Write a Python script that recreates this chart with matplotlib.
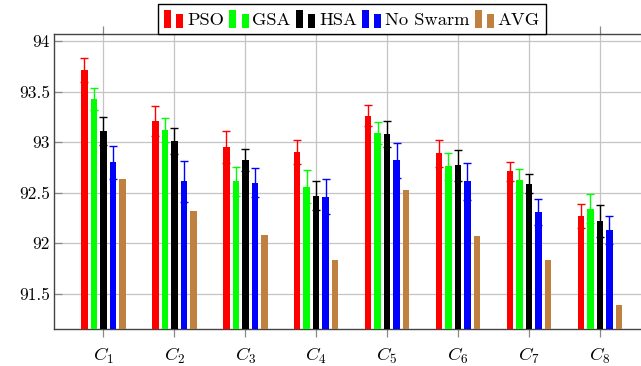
import matplotlib.pyplot as plt
import numpy as np
from matplotlib.legend_handler import HandlerBase
from matplotlib.patches import Rectangle

plt.rcParams['font.family'] = 'serif'
plt.rcParams['font.serif'] = ['cmr10', 'DejaVu Serif']
plt.rcParams['mathtext.fontset'] = 'cm'
plt.rcParams['axes.formatter.use_mathtext'] = True

# mean accuracy per configuration, with error half-widths
categories = [r'$C_1$', r'$C_2$', r'$C_3$', r'$C_4$', r'$C_5$', r'$C_6$', r'$C_7$', r'$C_8$']
pso = [93.71, 93.21, 92.95, 92.90, 93.26, 92.89, 92.71, 92.27]
pso_err = [0.12, 0.15, 0.155, 0.12, 0.105, 0.135, 0.095, 0.12]
gsa = [93.43, 93.12, 92.61, 92.56, 93.09, 92.76, 92.62, 92.34]
gsa_err = [0.11, 0.12, 0.145, 0.165, 0.105, 0.135, 0.115, 0.145]
hsa = [93.11, 93.01, 92.82, 92.47, 93.08, 92.77, 92.59, 92.22]
hsa_err = [0.14, 0.13, 0.11, 0.145, 0.13, 0.155, 0.095, 0.155]
noswarm = [92.80, 92.61, 92.60, 92.46, 92.82, 92.61, 92.31, 92.13]
noswarm_err = [0.165, 0.20, 0.145, 0.17, 0.175, 0.185, 0.13, 0.14]
avg = [92.63, 92.32, 92.08, 91.83, 92.53, 92.07, 91.83, 91.39]

labels = ['PSO', 'GSA', 'HSA', 'No Swarm', 'AVG']
colors = ['#ff0000', '#00ff00', '#000000', '#0000ff', '#bf8040']
series = [pso, gsa, hsa, noswarm, avg]
errors = [pso_err, gsa_err, hsa_err, noswarm_err, None]


class TwoBarHandler(HandlerBase):
    # legend symbol made of two small bars, tall then short
    def create_artists(self, legend, orig_handle, xdescent, ydescent,
                       width, height, fontsize, trans):
        c = orig_handle.get_facecolor()
        w = width * 0.36
        r1 = Rectangle((-xdescent, -ydescent), w, height, facecolor=c,
                       edgecolor='none', transform=trans)
        r2 = Rectangle((-xdescent + width - w, -ydescent), w, height * 0.75,
                       facecolor=c, edgecolor='none', transform=trans)
        return [r1, r2]


fig = plt.figure(figsize=(6.41, 3.66), dpi=100)
ax = fig.add_axes([54 / 641, 1 - 329 / 366, 596 / 641, 295 / 366])

x = np.arange(len(categories))
step = 0.134
width = 0.092
handles = []
for i, (vals, err, col, lab) in enumerate(zip(series, errors, colors, labels)):
    pos = x + (i - 2) * step
    h = ax.bar(pos, np.array(vals) - 91.0, width, bottom=91.0, color=col,
               label=lab, zorder=3)
    handles.append(h.patches[0])
    if err is not None:
        ax.errorbar(pos, vals, yerr=err, fmt='none', ecolor=col,
                    elinewidth=1.0, capsize=3, capthick=1.0, zorder=4)

ax.set_xlim(-0.698, 7.708)
ax.set_ylim(91.15, 94.07)
ax.set_xticks(x)
ax.set_xticklabels(categories, fontsize=13.5)
ax.set_yticks([91.5, 92, 92.5, 93, 93.5, 94])
ax.set_yticklabels(['91.5', '92', '92.5', '93', '93.5', '94'], fontsize=12.5)

ax.grid(True, color='#c4c4c4', linewidth=0.9, zorder=0)
ax.tick_params(axis='x', direction='out', length=6, color='#888888',
               top=True, width=0.9, pad=6)
ax.tick_params(axis='y', direction='in', length=6, color='#888888',
               width=0.9, pad=3)
for s in ax.spines.values():
    s.set_color('#444444')
    s.set_linewidth(1.0)

leg = fig.legend(handles, labels, loc='upper center',
                 bbox_to_anchor=(352 / 641, 1 - 4 / 366), ncol=5,
                 fontsize=13.3, handler_map={Rectangle: TwoBarHandler()},
                 handlelength=1.05, handleheight=1.1, handletextpad=0.2,
                 columnspacing=0.28, borderpad=0.32, borderaxespad=0,
                 fancybox=False, framealpha=1, edgecolor='black')
leg.get_frame().set_linewidth(1.0)

fig.savefig('out.png', dpi=100)
